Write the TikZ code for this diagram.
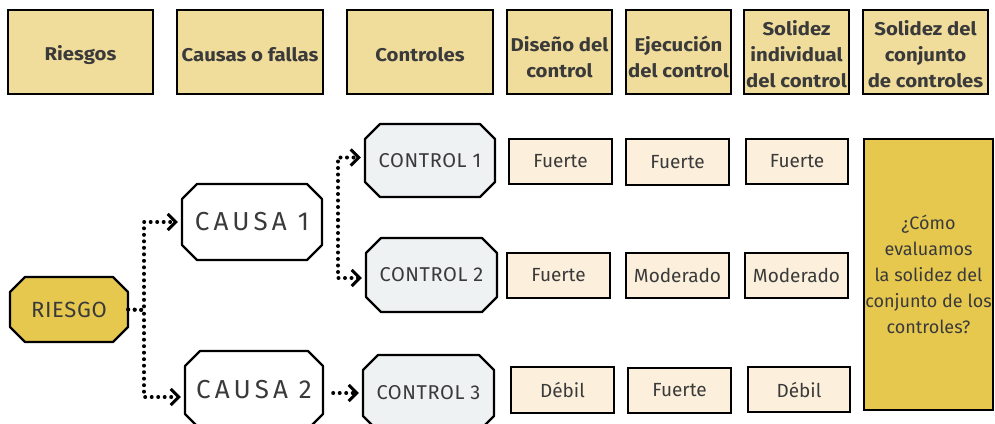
\documentclass[tikz,border=0pt]{standalone}
\usepackage{fontspec}
\setmainfont{Fira Sans}
\newfontfamily\hdrfont[FakeStretch=1.1]{Fira Sans}
\newfontfamily\causafont[LetterSpace=16]{Fira Sans}
\newfontfamily\ctrlfont[LetterSpace=3]{Fira Sans}
\usetikzlibrary{arrows.meta}
\definecolor{hdrfill}{HTML}{F0DC9B}
\definecolor{goldfill}{HTML}{E6C84F}
\definecolor{valfill}{HTML}{FCF0DC}
\definecolor{ctrlfill}{HTML}{EEF2F2}
\definecolor{txt}{HTML}{3A3A3A}
\tikzset{
  hdrbox/.style={draw=black, line width=1.8pt, fill=hdrfill, inner sep=0pt},
  hdrtext/.style={text=txt, font=\fontsize{18.5}{26}\selectfont\hdrfont\bfseries, align=center, inner sep=0pt},
  valbox/.style={draw=black, line width=1.8pt, fill=valfill, text=txt, font=\fontsize{19}{24}\selectfont, align=center, inner sep=0pt},
  bigbox/.style={draw=black, line width=1.8pt, fill=goldfill, text=txt, font=\fontsize{18}{26}\selectfont, align=center, inner sep=0pt},
  octline/.style={draw=black, line width=2.2pt, line join=round},
  conn/.style={line width=4pt, dash pattern=on 0pt off 6.5pt, line cap=round, -{Straight Barb[length=8pt,width=16pt,line width=3pt]}, shorten >=4pt}
}
\newcommand\rectbox[7]{%
  \node[#6, minimum width={#4-#2}, minimum height={#5-#3}] (#1) at ({(#2+#4)/2},{(#3+#5)/2}) {#7};}
\newcommand\hdr[7]{% name x1 y1 x2 y2 down text
  \node[hdrbox, minimum width={#4-#2}, minimum height={#5-#3}] (#1) at ({(#2+#4)/2},{(#3+#5)/2}) {};
  \node[hdrtext] (#1t) at ([yshift=-#6pt]#1.center) {#7};}
\newcommand\octbox[8]{%
  \draw[octline, fill=#6] ({#2+15},#3) -- ({#4-15},#3) -- (#4,{#3+15}) -- (#4,{#5-15}) -- ({#4-15},#5) -- ({#2+15},#5) -- (#2,{#5-15}) -- (#2,{#3+15}) -- cycle;
  \node[inner sep=0pt, minimum width={#4-#2}, minimum height={#5-#3}, text=txt, font=#7] (#1) at ({(#2+#4)/2},{(#3+#5)/2}) {#8};}
\begin{document}
\begin{tikzpicture}[x=1pt, y=-1pt]
\useasboundingbox[fill=white] (0,0) rectangle (995,423);
% headers
\hdr{h1}{8}{10}{153}{94}{3}{Riesgos}
\hdr{h2}{177}{10}{323}{94}{3}{Causas o fallas}
\hdr{h3}{347}{10}{493}{94}{3}{Controles}
\hdr{h4}{507}{10}{612}{94}{5}{Diseño del\\control}
\hdr{h5}{626}{10}{731}{94}{5}{Ejecución\\del control}
\hdr{h6}{744}{10}{849}{94}{2}{Solidez\\individual\\del control}
\hdr{h7}{863}{10}{988}{94}{2}{Solidez del\\conjunto\\de controles}
% octagon nodes
\octbox{r}{10}{277}{128}{342}{goldfill}{\fontsize{22}{24}\selectfont\ctrlfont}{RIESGO}
\octbox{c1}{182}{184}{322}{260}{white}{\fontsize{26}{28}\selectfont\causafont}{CAUSA 1}
\octbox{c2}{185}{351}{323}{429}{white}{\fontsize{26}{28}\selectfont\causafont}{CAUSA 2}
\octbox{k1}{365}{124}{495}{197}{ctrlfill}{\fontsize{20}{22}\selectfont\ctrlfont}{CONTROL 1}
\octbox{k2}{366}{238}{497}{312}{ctrlfill}{\fontsize{20}{22}\selectfont\ctrlfont}{CONTROL 2}
\octbox{k3}{363}{355}{494}{431}{ctrlfill}{\fontsize{20}{22}\selectfont\ctrlfont}{CONTROL 3}
% value boxes
\rectbox{v11}{509}{139}{612}{184}{valbox}{Fuerte}
\rectbox{v12}{626}{139}{729}{185}{valbox}{Fuerte}
\rectbox{v13}{746}{139}{848}{184}{valbox}{Fuerte}
\rectbox{v21}{507}{253}{610}{298}{valbox}{Fuerte}
\rectbox{v22}{626}{253}{729}{298}{valbox}{Moderado}
\rectbox{v23}{745}{253}{848}{298}{valbox}{Moderado}
\rectbox{v31}{511}{367}{614}{413}{valbox}{Débil}
\rectbox{v32}{628}{368}{731}{413}{valbox}{Fuerte}
\rectbox{v33}{748}{367}{850}{412}{valbox}{Débil}
\rectbox{big}{864}{139}{993}{410}{bigbox}{¿Cómo\\evaluamos\\la solidez del\\conjunto de los\\controles?}
% connectors
\coordinate (rj) at (144,310);
\draw[conn] (r.east) -- (rj) |- (c1.west);
\draw[conn] (r.east) -- (rj) |- ([yshift=-7pt]c2.west);
\coordinate (cj) at (338,220);
\draw[conn] (cj) |- ([yshift=3pt]k1.west);
\draw[conn] (cj) |- ([yshift=-3pt]k2.west);
\draw[conn] ([xshift=10pt]c2.east |- k3.west) -- (k3.west);
\end{tikzpicture}
\end{document}
